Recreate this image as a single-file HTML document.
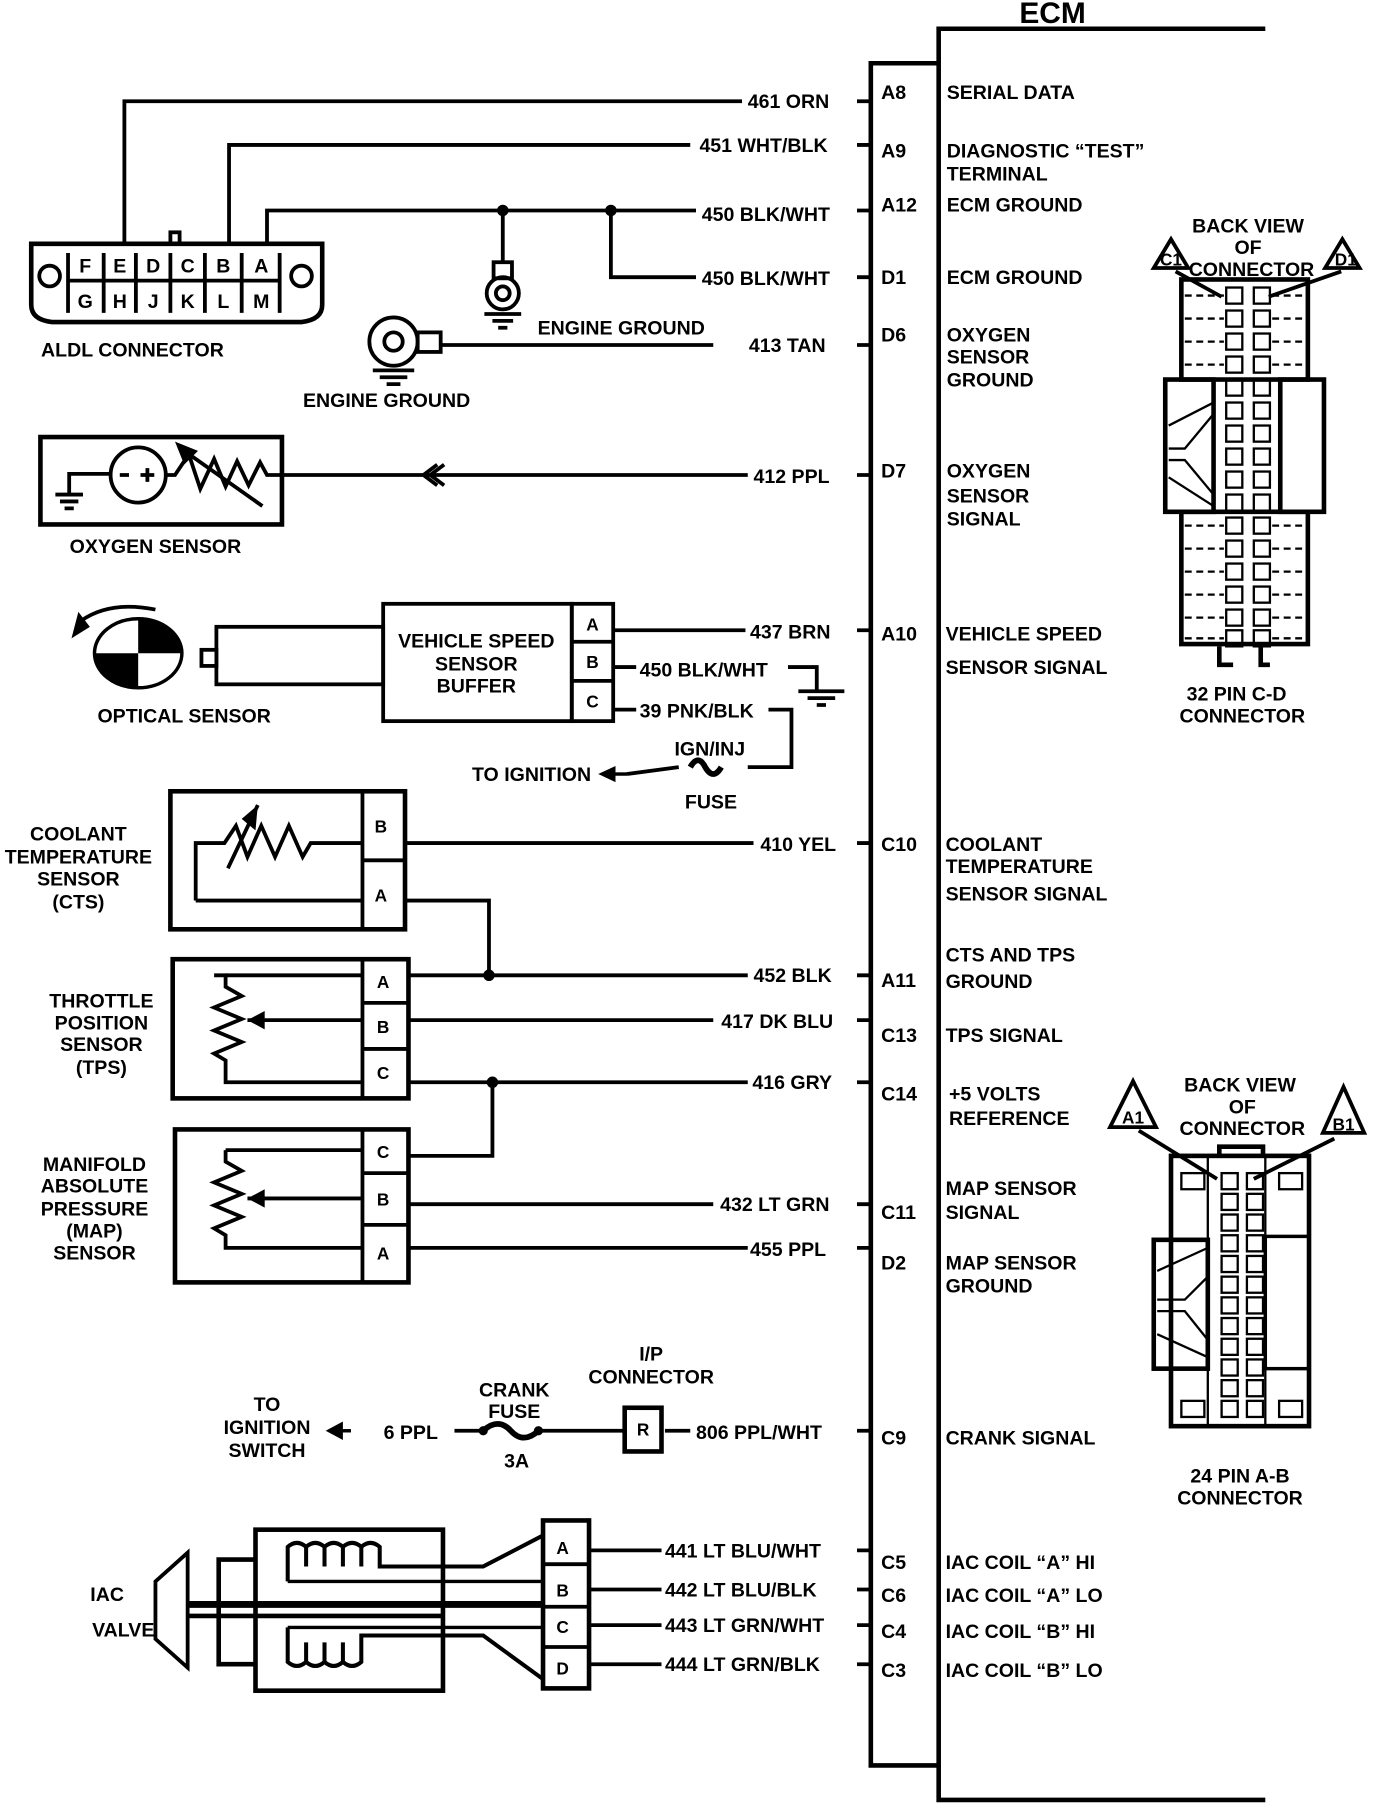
<!DOCTYPE html>
<html><head><meta charset="utf-8"><style>html,body{margin:0;padding:0;background:#fff}svg{display:block}</style></head><body>
<svg width="1392" height="1808" viewBox="0 0 1210 1572" xmlns="http://www.w3.org/2000/svg" font-family="Liberation Sans, sans-serif" font-weight="bold" font-size="17">
<rect width="1210" height="1572" fill="#fff"/>
<g stroke="#000" stroke-width="3.3" fill="none">
<!-- ECM -->
<polyline points="1100,25 816,25 816,1565 1100,1565" stroke-width="4"/>
<polyline points="816,55 757,55 757,1535 816,1535" stroke-width="4"/>
<path d="M745 88H757M745 126H757M745 183H757M745 241H757M745 300H757M745 413H757M745 548H757M745 733H757M745 848H757M745 887H757M745 941H757M745 1047H757M745 1085H757M745 1244H757M745 1348H757M745 1382H757M745 1413H757M745 1447H757"/>
<polyline points="108,212 108,88 645,88"/>
<polyline points="199,212 199,126 600,126"/>
<polyline points="232,212 232,183 605,183"/>
<polyline points="531,183 531,241 605,241"/>
<line x1="437" y1="183" x2="437" y2="228"/>
<path d="M27,212 H280 V265 Q280,278 262,280 H45 Q27,278 27,265 Z" stroke-width="4"/>
<rect x="148" y="202" width="8" height="10"/>
<path d="M59,220V272M243,220V272M59,244H243M90,220V272M118,220V272M148,220V272M178,220V272M210,220V272"/>
<circle cx="43" cy="240" r="9"/><circle cx="262" cy="240" r="9"/>
<rect x="429" y="228" width="16" height="14"/>
<circle cx="437" cy="255" r="14"/><circle cx="437" cy="255" r="6"/>
<path d="M421 273H453M428 279H446M433 285H441"/>
<circle cx="342" cy="297" r="21"/><circle cx="342" cy="297" r="8"/>
<rect x="363" y="289" width="20" height="17"/>
<line x1="383" y1="300" x2="620" y2="300"/>
<path d="M324 322H360M330 328H354M336 334H348"/>
<rect x="35" y="380" width="210" height="76" stroke-width="4"/>
<polyline points="60,430 60,412 95,412"/>
<path d="M48 430H72M52 436H68M56 442H64"/>
<circle cx="120" cy="413" r="24"/>
<path d="M104 413H112M122 413H134M128 407V419"/>
<polyline points="144,413 152,413 164,395 174,425 186,399 196,423 206,401 216,422 226,402 232,413 650,413"/>
<line x1="228" y1="440" x2="160" y2="392"/>
<path d="M380 404L368 413L380 422M386 404L374 413L386 422"/>
<rect x="333" y="525" width="164" height="102"/>
<rect x="497" y="525" width="36" height="102"/>
<path d="M497 558H533M497 592H533"/>
<line x1="533" y1="548" x2="648" y2="548"/>
<line x1="533" y1="580" x2="553" y2="580"/>
<line x1="533" y1="617" x2="553" y2="617"/>
<polyline points="685,580 710,580 710,600"/>
<path d="M694 601H734M702 607H726M710 613H718"/>
<polyline points="668,617 688,617 688,667 650,667"/>
<path d="M600 667Q607 655 613 667Q620 679 627 667" stroke-width="5"/>
<line x1="545" y1="673" x2="590" y2="667"/>
<rect x="188" y="545" width="145" height="50"/>
<rect x="175" y="565" width="13" height="14"/>
<path d="M70 540Q95 522 135 530"/>
<rect x="148" y="688" width="204" height="120" stroke-width="4"/>
<path d="M315 688V808M315 748H352"/>
<polyline points="170,783 170,733 195,733 205,718 215,745 227,718 239,745 251,718 263,745 270,733 315,733"/>
<line x1="198" y1="755" x2="224" y2="700"/>
<line x1="352" y1="733" x2="655" y2="733"/>
<polyline points="170,783 315,783"/>
<polyline points="352,783 425,783 425,848"/>
<rect x="150" y="834" width="205" height="121" stroke-width="4"/>
<path d="M315 834V955M315 872H355M315 912H355"/>
<polyline points="186,848 196,848 196,858 210,866 186,876 210,886 186,896 210,906 186,916 196,922 196,941 315,941"/>
<polyline points="196,848 315,848"/>
<line x1="215" y1="887" x2="315" y2="887"/>
<line x1="355" y1="848" x2="650" y2="848"/>
<line x1="355" y1="887" x2="620" y2="887"/>
<line x1="355" y1="941" x2="650" y2="941"/>
<polyline points="428,941 428,1005 355,1005"/>
<rect x="152" y="982" width="203" height="133" stroke-width="4"/>
<path d="M315 982V1115M315 1020H355M315 1065H355"/>
<polyline points="196,1000 196,1010 210,1018 186,1028 210,1038 186,1048 210,1058 186,1068 196,1074 196,1085 315,1085"/>
<polyline points="196,1000 315,1000"/>
<line x1="215" y1="1042" x2="315" y2="1042"/>
<line x1="355" y1="1047" x2="620" y2="1047"/>
<line x1="355" y1="1085" x2="650" y2="1085"/>
<line x1="395" y1="1244" x2="420" y2="1244"/>
<path d="M420 1244Q433 1232 444 1244Q455 1256 468 1244" stroke-width="5"/>
<line x1="468" y1="1244" x2="543" y2="1244"/>
<rect x="543" y="1224" width="32" height="38" stroke-width="4"/>
<line x1="578" y1="1244" x2="600" y2="1244"/>
<rect x="472" y="1322" width="40" height="146" stroke-width="4"/>
<path d="M472 1360H512M472 1397H512M472 1432H512"/>
<line x1="512" y1="1348" x2="575" y2="1348"/>
<line x1="512" y1="1382" x2="575" y2="1382"/>
<line x1="512" y1="1413" x2="575" y2="1413"/>
<line x1="512" y1="1447" x2="575" y2="1447"/>
<rect x="222" y="1330" width="163" height="140" stroke-width="4"/>
<polyline points="222,1356 190,1356 190,1447 222,1447" stroke-width="4"/>
<polygon points="163,1350 163,1450 135,1425 135,1375"/>
<line x1="163" y1="1395" x2="472" y2="1395" stroke-width="6"/>
<line x1="163" y1="1405" x2="385" y2="1405" stroke-width="4"/>
<path d="M250 1375V1345Q258 1338 266 1345V1362M266 1345Q274 1338 282 1345V1362M282 1345Q290 1338 298 1345V1362M298 1345Q306 1338 314 1345V1362M314 1345Q322 1338 330 1345V1362H420L472 1335" stroke-width="3.5"/>
<path d="M250 1375H472" stroke-width="3"/>
<path d="M250 1415V1445Q258 1452 266 1445V1428M266 1445Q274 1452 282 1445V1428M282 1445Q290 1452 298 1445V1428M298 1445Q306 1452 314 1445V1428M314 1445V1422H420L472 1460" stroke-width="3.5"/>
<path d="M250 1415H472" stroke-width="3"/>
<polygon points="1003,233 1018,208 1033,233"/>
<polygon points="1152,233 1167,208 1182,233"/>
<line x1="1022" y1="236" x2="1062" y2="258"/>
<line x1="1166" y1="236" x2="1103" y2="258"/>
<rect x="1027" y="243" width="110" height="87" stroke-width="4"/>
<rect x="1027" y="445" width="110" height="115" stroke-width="4"/>
<rect x="1013" y="330" width="42" height="115" stroke-width="4"/>
<rect x="1113" y="330" width="38" height="115" stroke-width="4"/>
<path d="M1016 370L1055 350M1016 390L1030 390L1055 360M1016 400L1030 400L1055 430M1016 415L1055 440" stroke-width="2"/>
<g stroke-width="2">
<rect x="1066" y="250" width="14" height="14"/><rect x="1090" y="250" width="14" height="14"/>
<rect x="1066" y="270" width="14" height="14"/><rect x="1090" y="270" width="14" height="14"/>
<rect x="1066" y="290" width="14" height="14"/><rect x="1090" y="290" width="14" height="14"/>
<rect x="1066" y="310" width="14" height="14"/><rect x="1090" y="310" width="14" height="14"/>
<rect x="1066" y="330" width="14" height="14"/><rect x="1090" y="330" width="14" height="14"/>
<rect x="1066" y="350" width="14" height="14"/><rect x="1090" y="350" width="14" height="14"/>
<rect x="1066" y="370" width="14" height="14"/><rect x="1090" y="370" width="14" height="14"/>
<rect x="1066" y="390" width="14" height="14"/><rect x="1090" y="390" width="14" height="14"/>
<rect x="1066" y="410" width="14" height="14"/><rect x="1090" y="410" width="14" height="14"/>
<rect x="1066" y="430" width="14" height="14"/><rect x="1090" y="430" width="14" height="14"/>
<rect x="1066" y="450" width="14" height="14"/><rect x="1090" y="450" width="14" height="14"/>
<rect x="1066" y="470" width="14" height="14"/><rect x="1090" y="470" width="14" height="14"/>
<rect x="1066" y="490" width="14" height="14"/><rect x="1090" y="490" width="14" height="14"/>
<rect x="1066" y="510" width="14" height="14"/><rect x="1090" y="510" width="14" height="14"/>
<rect x="1066" y="530" width="14" height="14"/><rect x="1090" y="530" width="14" height="14"/>
<rect x="1066" y="548" width="14" height="14"/><rect x="1090" y="548" width="14" height="14"/>
<path d="M1030 257H1064M1106 257H1135M1030 277H1064M1106 277H1135M1030 297H1064M1106 297H1135M1030 317H1064M1106 317H1135M1030 457H1064M1106 457H1135M1030 477H1064M1106 477H1135M1030 497H1064M1106 497H1135M1030 517H1064M1106 517H1135M1030 537H1064M1106 537H1135M1030 555H1064M1106 555H1135" stroke-dasharray="6 4"/>
</g>
<path d="M1060 562V578H1072M1096 562V578H1104" stroke-width="4"/>
<polygon points="965,980 985,940 1005,980"/>
<polygon points="1150,985 1168,945 1186,985"/>
<line x1="990" y1="983" x2="1058" y2="1025"/>
<line x1="1160" y1="990" x2="1090" y2="1025"/>
<rect x="1018" y="1005" width="120" height="235" stroke-width="4"/>
<rect x="1003" y="1078" width="47" height="112" stroke-width="4"/>
<rect x="1100" y="1075" width="38" height="115" stroke-width="3"/>
<path d="M1050 1005V1240M1100 1005V1240" stroke-width="2"/>
<path d="M1006 1105L1050 1085M1006 1130L1030 1130L1050 1110M1006 1140L1030 1140L1050 1165M1006 1160L1050 1180" stroke-width="2"/>
<g stroke-width="2">
<rect x="1027" y="1020" width="20" height="14"/><rect x="1112" y="1020" width="20" height="14"/>
<rect x="1027" y="1218" width="20" height="14"/><rect x="1112" y="1218" width="20" height="14"/>
<rect x="1062" y="1020" width="14" height="14"/><rect x="1084" y="1020" width="14" height="14"/>
<rect x="1062" y="1038" width="14" height="14"/><rect x="1084" y="1038" width="14" height="14"/>
<rect x="1062" y="1056" width="14" height="14"/><rect x="1084" y="1056" width="14" height="14"/>
<rect x="1062" y="1074" width="14" height="14"/><rect x="1084" y="1074" width="14" height="14"/>
<rect x="1062" y="1092" width="14" height="14"/><rect x="1084" y="1092" width="14" height="14"/>
<rect x="1062" y="1110" width="14" height="14"/><rect x="1084" y="1110" width="14" height="14"/>
<rect x="1062" y="1128" width="14" height="14"/><rect x="1084" y="1128" width="14" height="14"/>
<rect x="1062" y="1146" width="14" height="14"/><rect x="1084" y="1146" width="14" height="14"/>
<rect x="1062" y="1164" width="14" height="14"/><rect x="1084" y="1164" width="14" height="14"/>
<rect x="1062" y="1182" width="14" height="14"/><rect x="1084" y="1182" width="14" height="14"/>
<rect x="1062" y="1200" width="14" height="14"/><rect x="1084" y="1200" width="14" height="14"/>
<rect x="1062" y="1218" width="14" height="14"/><rect x="1084" y="1218" width="14" height="14"/>
</g>
<path d="M1060 1005V997H1098V1005" stroke-width="4"/>
</g>
<g fill="#000">
<circle cx="437" cy="183" r="5"/><circle cx="531" cy="183" r="5"/>
<circle cx="425" cy="848" r="5"/><circle cx="428" cy="941" r="5"/>
<circle cx="468" cy="1244" r="4"/><circle cx="420" cy="1244" r="4"/>
<polygon points="152,384 172,392 160,404"/>
<polygon points="224,700 222,722 210,712"/>
<polygon points="215,887 230,879 230,895"/>
<polygon points="215,1042 230,1034 230,1050"/>
<polygon points="520,673 535,666 535,680"/>
<polygon points="283,1244 298,1236 298,1252"/>
<line x1="296" y1="1244" x2="305" y2="1244" stroke="#000" stroke-width="3"/>
<line x1="533" y1="673" x2="545" y2="673" stroke="#000" stroke-width="3"/>
<polygon points="62,555 68,532 78,545"/>
<path d="M120 538A38 30 0 0 1 158 568H120Z"/>
<path d="M120 598A38 30 0 0 1 82 568H120Z"/>
</g>
<ellipse cx="120" cy="568" rx="38" ry="30" fill="none" stroke="#000" stroke-width="3"/>
<text x="915" y="20" font-size="26" text-anchor="middle">ECM</text>
<g font-size="17">
<text x="650" y="94">461 ORN</text>
<text x="608" y="132">451 WHT/BLK</text>
<text x="610" y="192">450 BLK/WHT</text>
<text x="610" y="248">450 BLK/WHT</text>
<text x="651" y="306">413 TAN</text>
<text x="655" y="420">412 PPL</text>
<text x="652" y="555">437 BRN</text>
<text x="556" y="588">450 BLK/WHT</text>
<text x="556" y="624">39 PNK/BLK</text>
<text x="661" y="740">410 YEL</text>
<text x="655" y="854">452 BLK</text>
<text x="627" y="894">417 DK BLU</text>
<text x="654" y="947">416 GRY</text>
<text x="626" y="1053">432 LT GRN</text>
<text x="652" y="1092">455 PPL</text>
<text x="605" y="1251">806 PPL/WHT</text>
<text x="578" y="1354">441 LT BLU/WHT</text>
<text x="578" y="1388">442 LT BLU/BLK</text>
<text x="578" y="1419">443 LT GRN/WHT</text>
<text x="578" y="1453">444 LT GRN/BLK</text>
<text x="766" y="86">A8</text><text x="766" y="137">A9</text><text x="766" y="184">A12</text>
<text x="766" y="247">D1</text><text x="766" y="297">D6</text><text x="766" y="415">D7</text>
<text x="766" y="557">A10</text><text x="766" y="740">C10</text><text x="766" y="858">A11</text>
<text x="766" y="906">C13</text><text x="766" y="957">C14</text><text x="766" y="1060">C11</text>
<text x="766" y="1104">D2</text><text x="766" y="1256">C9</text><text x="766" y="1364">C5</text>
<text x="766" y="1393">C6</text><text x="766" y="1424">C4</text><text x="766" y="1458">C3</text>
<text x="823" y="86">SERIAL DATA</text>
<text x="823" y="137">DIAGNOSTIC “TEST”</text><text x="823" y="157">TERMINAL</text>
<text x="823" y="184">ECM GROUND</text>
<text x="823" y="247">ECM GROUND</text>
<text x="823" y="297">OXYGEN</text><text x="823" y="316">SENSOR</text><text x="823" y="336">GROUND</text>
<text x="823" y="415">OXYGEN</text><text x="823" y="437">SENSOR</text><text x="823" y="457">SIGNAL</text>
<text x="822" y="557">VEHICLE SPEED</text><text x="822" y="586">SENSOR SIGNAL</text>
<text x="822" y="740">COOLANT</text><text x="822" y="759">TEMPERATURE</text><text x="822" y="783">SENSOR SIGNAL</text>
<text x="822" y="836">CTS AND TPS</text><text x="822" y="859">GROUND</text>
<text x="822" y="906">TPS SIGNAL</text>
<text x="825" y="957">+5 VOLTS</text><text x="825" y="978">REFERENCE</text>
<text x="822" y="1039">MAP SENSOR</text><text x="822" y="1060">SIGNAL</text>
<text x="822" y="1104">MAP SENSOR</text><text x="822" y="1124">GROUND</text>
<text x="822" y="1256">CRANK SIGNAL</text>
<text x="822" y="1364">IAC COIL “A” HI</text><text x="822" y="1393">IAC COIL “A” LO</text>
<text x="822" y="1424">IAC COIL “B” HI</text><text x="822" y="1458">IAC COIL “B” LO</text>
</g>
<g font-size="17" text-anchor="middle">
<text x="74" y="237">F</text><text x="104" y="237">E</text><text x="133" y="237">D</text><text x="163" y="237">C</text><text x="194" y="237">B</text><text x="227" y="237">A</text>
<text x="74" y="268">G</text><text x="104" y="268">H</text><text x="133" y="268">J</text><text x="163" y="268">K</text><text x="194" y="268">L</text><text x="227" y="268">M</text>
</g>
<g font-size="15" text-anchor="middle">
<text x="515" y="548">A</text><text x="515" y="581">B</text><text x="515" y="615">C</text>
<text x="331" y="724">B</text><text x="331" y="784">A</text>
<text x="333" y="859">A</text><text x="333" y="898">B</text><text x="333" y="938">C</text>
<text x="333" y="1007">C</text><text x="333" y="1048">B</text><text x="333" y="1095">A</text>
<text x="559" y="1248">R</text>
<text x="489" y="1351">A</text><text x="489" y="1388">B</text><text x="489" y="1420">C</text><text x="489" y="1456">D</text>
<text x="1018" y="231">C1</text><text x="1170" y="231">D1</text>
<text x="985" y="977">A1</text><text x="1168" y="983">B1</text>
</g>
<g font-size="17" text-anchor="middle">
<text x="115" y="310">ALDL  CONNECTOR</text>
<text x="540" y="291">ENGINE GROUND</text>
<text x="336" y="354">ENGINE GROUND</text>
<text x="135" y="481">OXYGEN SENSOR</text>
<text x="414" y="563">VEHICLE SPEED</text><text x="414" y="583">SENSOR</text><text x="414" y="602">BUFFER</text>
<text x="160" y="628">OPTICAL SENSOR</text>
<text x="617" y="657">IGN/INJ</text><text x="618" y="703">FUSE</text>
<text x="462" y="679">TO IGNITION</text>
<text x="68" y="731">COOLANT</text><text x="68" y="751">TEMPERATURE</text><text x="68" y="770">SENSOR</text><text x="68" y="790">(CTS)</text>
<text x="88" y="876">THROTTLE</text><text x="88" y="895">POSITION</text><text x="88" y="914">SENSOR</text><text x="88" y="934">(TPS)</text>
<text x="82" y="1018">MANIFOLD</text><text x="82" y="1037">ABSOLUTE</text><text x="82" y="1057">PRESSURE</text><text x="82" y="1076">(MAP)</text><text x="82" y="1095">SENSOR</text>
<text x="232" y="1227">TO</text><text x="232" y="1247">IGNITION</text><text x="232" y="1267">SWITCH</text>
<text x="357" y="1251">6 PPL</text>
<text x="447" y="1214">CRANK</text><text x="447" y="1233">FUSE</text><text x="449" y="1276">3A</text>
<text x="566" y="1183">I/P</text><text x="566" y="1203">CONNECTOR</text>
<text x="93" y="1392">IAC</text><text x="107" y="1423">VALVE</text>
<text x="1085" y="202">BACK VIEW</text><text x="1085" y="221">OF</text><text x="1088" y="240">CONNECTOR</text>
<text x="1075" y="609">32  PIN C-D</text><text x="1080" y="628">CONNECTOR</text>
<text x="1078" y="949">BACK VIEW</text><text x="1080" y="968">OF</text><text x="1080" y="987">CONNECTOR</text>
<text x="1078" y="1289">24 PIN  A-B</text><text x="1078" y="1308">CONNECTOR</text>
</g>
</svg>
</body></html>
